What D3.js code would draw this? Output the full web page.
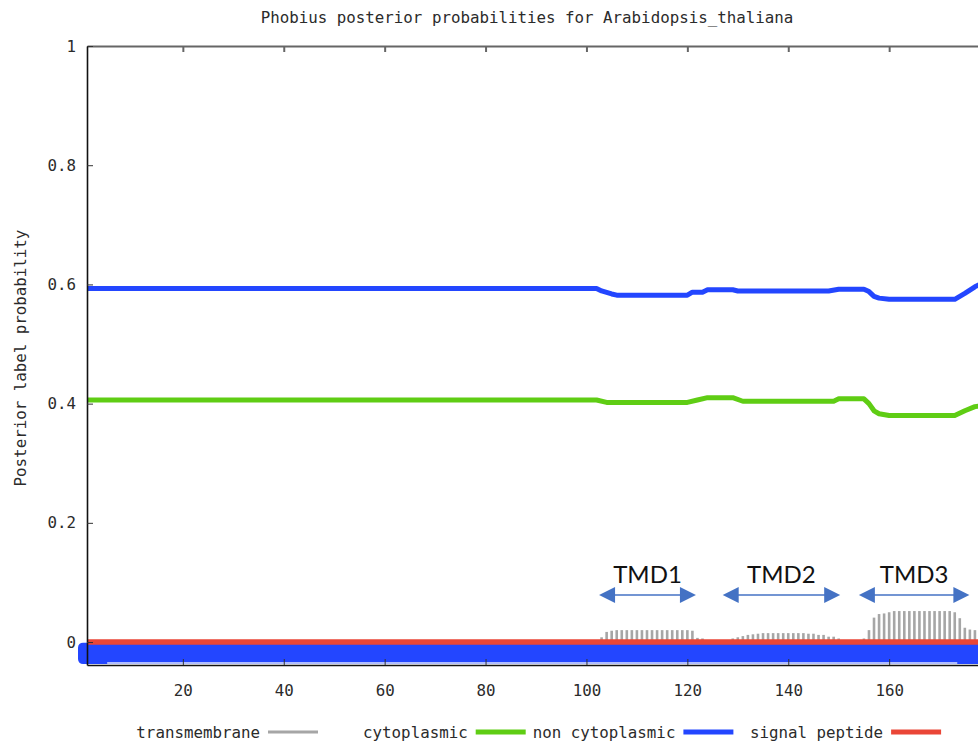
<!DOCTYPE html>
<html>
<head>
<meta charset="utf-8">
<script src="https://cdn.jsdelivr.net/npm/d3@7"></script>
<style>
    body { margin: 0; background: #fff; }
    svg { display: block; }
    .gp-text { font-family: 'DejaVu Sans Mono', monospace; font-size: 15.8px; fill: #2b2b2b; }
    .tmd-label { font-family: Lato, 'Open Sans', sans-serif; font-size: 24px; fill: #111; }
</style>
</head>
<body>
<div id="chart"></div>
<script>
// ---- data ----
const sequenceLength = 185;
const xTicks = [20, 40, 60, 80, 100, 120, 140, 160];
const yTicks = [0, 0.2, 0.4, 0.6, 0.8, 1];
const yTickLabels = ['0', '0.2', '0.4', '0.6', '0.8', '1'];

// non cytoplasmic posterior (blue)
const nonCytoResidues = [1, 102, 103, 105, 106, 120, 121, 123, 124, 129, 130, 148, 150, 155, 156, 157, 158, 160, 173, 175, 177, 178, 185];
const nonCytoValues   = [0.593, 0.593, 0.589, 0.584, 0.582, 0.582, 0.587, 0.587, 0.591, 0.591, 0.589, 0.589, 0.592, 0.592, 0.588, 0.580, 0.577, 0.575, 0.575, 0.585, 0.596, 0.600, 0.610];

// cytoplasmic posterior (green)
const cytoResidues = [1, 102, 104, 120, 122, 124, 129, 131, 149, 150, 155, 156, 157, 158, 160, 173, 175, 177, 185];
const cytoValues   = [0.406, 0.406, 0.402, 0.402, 0.406, 0.410, 0.410, 0.404, 0.404, 0.408, 0.408, 0.400, 0.388, 0.383, 0.380, 0.380, 0.388, 0.395, 0.405];

// transmembrane posterior (grey impulses), residues 103..178
const tmFirstResidue = 103;
const tmValues = [
    0.008, 0.017, 0.019, 0.020, 0.020, 0.020, 0.020, 0.020, 0.020, 0.020,
    0.020, 0.020, 0.020, 0.020, 0.020, 0.020, 0.020, 0.020, 0.019, 0.007,
    0.006, 0, 0, 0, 0, 0, 0.006, 0.008, 0.010, 0.012,
    0.013, 0.014, 0.015, 0.015, 0.015, 0.015, 0.015, 0.015, 0.015, 0.015,
    0.015, 0.014, 0.014, 0.012, 0.012, 0.009, 0.009, 0.006, 0, 0,
    0, 0, 0.006, 0.020, 0.041, 0.047, 0.048, 0.050, 0.052, 0.052,
    0.052, 0.052, 0.052, 0.052, 0.052, 0.052, 0.052, 0.052, 0.052, 0.052,
    0.050, 0.040, 0.024, 0.021, 0.020, 0.015
];

// signal peptide posterior (red) and predicted topology strip (blue band)
const signalResidues = [1, 185];
const signalValues = [0, 0];
const topologyResidues = [1, 185];
const topologyTop = -0.001;
const topologyBottom = -0.037;
const topologyEdgeResidues = [5, 173.5];
const topologyEdgeValues = [-0.035, -0.035];

// TMD annotations (residue spans)
const tmdLabels = ['TMD1', 'TMD2', 'TMD3'];
const tmdStart = [102.5, 127, 154];
const tmdEnd = [121.7, 150.3, 175.9];

const legendLabels = ['transmembrane', 'cytoplasmic', 'non cytoplasmic', 'signal peptide'];
const legendColors = ['#a6a6a6', '#5fcd14', '#2346ff', '#ea4637'];
const legendWidths = [3, 5, 5, 5];

class PhobiusChart {
    constructor(_config) {
        this.config = {
            parentElement: _config.parentElement,
            containerWidth: _config.containerWidth || 978,
            containerHeight: _config.containerHeight || 742
        };
        this.initVis();
    }

    initVis() {
        let vis = this;

        vis.svg = d3.select(vis.config.parentElement)
            .append('svg')
            .attr('width', vis.config.containerWidth)
            .attr('height', vis.config.containerHeight);

        vis.svg.append('rect')
            .attr('width', vis.config.containerWidth)
            .attr('height', vis.config.containerHeight)
            .attr('fill', '#fff');

        // x: one residue ~5.045px, starts at residue 1 on the left border
        vis.xScale = d3.scaleLinear()
            .domain([1, sequenceLength])
            .range([87, 87 + (sequenceLength - 1) * 5.045]);

        vis.yScale = d3.scaleLinear()
            .domain([-0.0385, 1])
            .range([665, 46]);

        vis.chart = vis.svg.append('g');
        vis.renderVis();
    }

    renderVis() {
        let vis = this;
        const x = vis.xScale, y = vis.yScale;

        const line = d3.line()
            .x(d => x(d[0]))
            .y(d => y(d[1]));

        // transmembrane impulses
        const tmData = tmValues
            .map((v, i) => ({ r: tmFirstResidue + i, v: v }))
            .filter(d => d.v > 0);
        vis.chart.selectAll('.tm-bar')
            .data(tmData)
            .join('line')
            .attr('class', 'tm-bar')
            .attr('x1', d => x(d.r))
            .attr('x2', d => x(d.r))
            .attr('y1', y(0))
            .attr('y2', d => y(d.v))
            .attr('stroke', '#a6a6a6')
            .attr('stroke-width', 2.6);

        // topology strip (rounded left end sticks out past the border)
        vis.chart.append('rect')
            .attr('x', x(topologyResidues[0]) - 9)
            .attr('y', y(topologyTop))
            .attr('width', x(topologyResidues[1]) - x(topologyResidues[0]) + 9)
            .attr('height', y(topologyBottom) - y(topologyTop))
            .attr('rx', 5)
            .attr('fill', '#2346ff');
        vis.chart.append('path')
            .attr('d', line(d3.zip(topologyEdgeResidues, topologyEdgeValues)))
            .attr('fill', 'none')
            .attr('stroke', '#dfe4ff')
            .attr('stroke-width', 1.5);

        // signal peptide
        vis.chart.append('path')
            .attr('d', line(d3.zip(signalResidues, signalValues)))
            .attr('fill', 'none')
            .attr('stroke', '#ea4637')
            .attr('stroke-width', 5.5);

        // posterior lines
        vis.chart.append('path')
            .attr('d', line(d3.zip(nonCytoResidues, nonCytoValues)))
            .attr('fill', 'none')
            .attr('stroke', '#2346ff')
            .attr('stroke-width', 5)
            .attr('stroke-linejoin', 'round');
        vis.chart.append('path')
            .attr('d', line(d3.zip(cytoResidues, cytoValues)))
            .attr('fill', 'none')
            .attr('stroke', '#5fcd14')
            .attr('stroke-width', 5)
            .attr('stroke-linejoin', 'round');

        // axes (gnuplot style: inward ticks, mirrored on top)
        const xAxis = d3.axisBottom(x).tickValues(xTicks)
            .tickSizeInner(-6).tickSizeOuter(0).tickPadding(20);
        const xAxisTop = d3.axisTop(x).tickValues(xTicks)
            .tickSizeInner(-6).tickSizeOuter(0).tickFormat('');
        const yAxis = d3.axisLeft(y).tickValues(yTicks)
            .tickFormat((d, i) => yTickLabels[i])
            .tickSizeInner(-6).tickSizeOuter(0).tickPadding(11);

        const gx = vis.chart.append('g').attr('transform', `translate(0,${y.range()[0]})`).call(xAxis);
        const gt = vis.chart.append('g').attr('transform', `translate(0,${y.range()[1]})`).call(xAxisTop);
        const gy = vis.chart.append('g').attr('transform', `translate(${x.range()[0]},0)`).call(yAxis);

        [gx, gt, gy].forEach(g => {
            g.attr('font-family', null).attr('font-size', null);
            g.selectAll('text').attr('class', 'gp-text').attr('fill', null);
        });
        gx.select('.domain').attr('stroke', '#111').attr('stroke-width', 1.6);
        gy.select('.domain').attr('stroke', '#111').attr('stroke-width', 1.6);
        gt.select('.domain').attr('stroke', '#666').attr('stroke-width', 2.2);
        gx.selectAll('.tick line').attr('stroke', '#333');
        gt.selectAll('.tick line').attr('stroke', '#666').attr('stroke-width', 2);
        gy.selectAll('.tick line').attr('stroke', '#333');

        // titles
        vis.svg.append('text')
            .attr('class', 'gp-text')
            .attr('x', 527)
            .attr('y', 17)
            .attr('dy', '0.35em')
            .attr('text-anchor', 'middle')
            .text('Phobius posterior probabilities for Arabidopsis_thaliana');

        vis.svg.append('text')
            .attr('class', 'gp-text')
            .attr('transform', `translate(20,${(y(0) + y(1)) / 2 + 14}) rotate(-90)`)
            .attr('dy', '0.35em')
            .attr('text-anchor', 'middle')
            .text('Posterior label probability');

        // legend, fixed-width columns like gnuplot's key
        const legend = vis.svg.append('g').attr('transform', 'translate(268,732)');
        const colW = 207.7;
        legendLabels.forEach((lab, i) => {
            const g = legend.append('g').attr('transform', `translate(${i * colW},0)`);
            g.append('text')
                .attr('class', 'gp-text')
                .attr('x', -8)
                .attr('dy', '0.35em')
                .attr('text-anchor', 'end')
                .text(lab);
            g.append('line')
                .attr('x1', 0).attr('x2', 50)
                .attr('stroke', legendColors[i])
                .attr('stroke-width', legendWidths[i]);
        });

        // TMD annotations with double arrows
        const arrowY = y(0) - 47;
        const head = 16, half = 8;
        const ann = vis.svg.append('g');
        tmdLabels.forEach((lab, i) => {
            const x0 = x(tmdStart[i]), x1 = x(tmdEnd[i]);
            ann.append('line')
                .attr('x1', x0 + head - 2).attr('x2', x1 - head + 2)
                .attr('y1', arrowY).attr('y2', arrowY)
                .attr('stroke', '#4472c4')
                .attr('stroke-width', 1.6);
            ann.append('path')
                .attr('d', `M${x0},${arrowY}L${x0 + head},${arrowY - half}L${x0 + head},${arrowY + half}Z`)
                .attr('fill', '#4472c4');
            ann.append('path')
                .attr('d', `M${x1},${arrowY}L${x1 - head},${arrowY - half}L${x1 - head},${arrowY + half}Z`)
                .attr('fill', '#4472c4');
            ann.append('text')
                .attr('class', 'tmd-label')
                .attr('x', (x0 + x1) / 2)
                .attr('y', arrowY - 12.5)
                .attr('text-anchor', 'middle')
                .text(lab);
        });
    }
}

new PhobiusChart({ parentElement: '#chart' });
</script>
</body>
</html>
